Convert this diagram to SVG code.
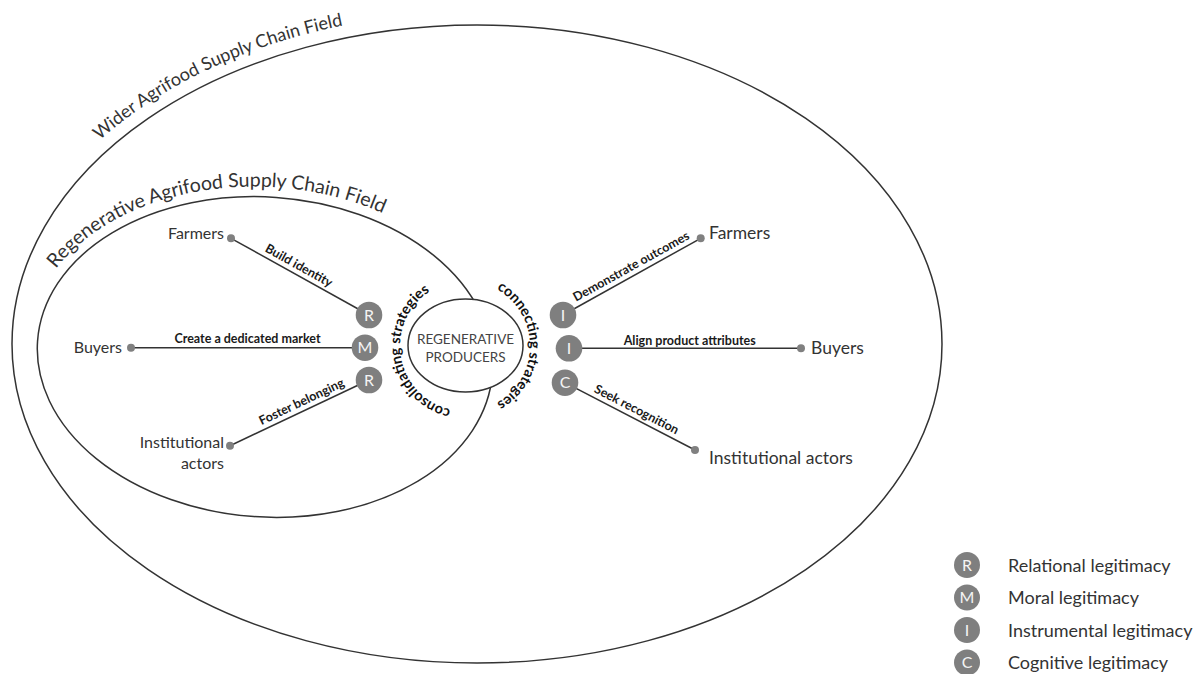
<svg xmlns="http://www.w3.org/2000/svg" width="1199" height="674" viewBox="0 0 1199 674">
<style>
.field{fill:none;stroke:#333;stroke-width:1.5}
.conn{stroke:#333;stroke-width:1.5;fill:none}
.dot{fill:#808080}
.badge{fill:#7f7f7f}
.bl{font-family:Lato,"Liberation Sans",sans-serif;font-size:16px;fill:#f4f4f4;text-anchor:middle}
.actorL{font-family:Lato,"Liberation Sans",sans-serif;font-size:16px;fill:#333;text-anchor:end}
.actorR{font-family:Lato,"Liberation Sans",sans-serif;font-size:17.5px;fill:#333}
.lbl{font-family:Lato,"Liberation Sans",sans-serif;font-weight:bold;font-size:12.5px;fill:#1a1a1a;text-anchor:middle}
.arc{font-family:Lato,"Liberation Sans",sans-serif;font-weight:bold;font-size:14.5px;fill:#111;text-anchor:middle}
.flabel{font-family:Lato,"Liberation Sans",sans-serif;font-size:18px;fill:#333}
.prod{font-family:Lato,"Liberation Sans",sans-serif;font-size:13.5px;fill:#444;text-anchor:middle}
.leg{font-family:Lato,"Liberation Sans",sans-serif;font-size:18px;fill:#333}
</style>
<defs>
<path id="outerPath" d="M -1 344 A 478 332 0 0 1 955 344"/>
<path id="innerPath" d="M -238 0 A 238 170 0 0 1 238 0"/>
<path id="leftArc" d="M 465 411 A 65 65 0 0 1 442.77 284.92"/>
<path id="rightArc" d="M 476.29 281.99 A 65 65 0 0 1 476.29 410.01"/>
</defs>

<g id="wider-field">
<ellipse class="field" cx="477" cy="344" rx="465" ry="319"/>
<text class="flabel"><textPath href="#outerPath" startOffset="234">Wider Agrifood Supply Chain Field</textPath></text>
</g>

<g id="regenerative-field" transform="translate(265 357) rotate(4)">
<ellipse class="field" cx="0" cy="0" rx="228" ry="160"/>
<text class="flabel" style="font-size:19.5px"><textPath href="#innerPath" startOffset="78">Regenerative Agrifood Supply Chain Field</textPath></text>
</g>

<g id="connectors">
<line class="conn" x1="231" y1="238.3" x2="369" y2="315"/>
<line class="conn" x1="131" y1="347.7" x2="365" y2="347.7"/>
<line class="conn" x1="230" y1="445.7" x2="369" y2="380"/>
<line class="conn" x1="563" y1="315" x2="700.7" y2="238.3"/>
<line class="conn" x1="569" y1="348.3" x2="801" y2="348.3"/>
<line class="conn" x1="565" y1="382.7" x2="695" y2="450"/>
<g transform="translate(294.5 273.6) rotate(29.1)"><text class="lbl" x="0" y="-5">Build identity</text></g>
<text class="lbl" x="247.5" y="342.5">Create a dedicated market</text>
<g transform="translate(305.5 410) rotate(-25.3)"><text class="lbl" x="0" y="-5">Foster belonging</text></g>
<g transform="translate(635.6 274.5) rotate(-29.06)"><text class="lbl" x="0" y="-5">Demonstrate outcomes</text></g>
<text class="lbl" x="689.7" y="345">Align product attributes</text>
<g transform="translate(632.4 417.6) rotate(27.37)"><text class="lbl" x="0" y="-5">Seek recognition</text></g>
</g>

<g id="producers">
<ellipse cx="465.5" cy="345.5" rx="57.5" ry="46.5" fill="#fff" stroke="#333" stroke-width="1.5"/>
<text class="prod" x="465.5" y="344">REGENERATIVE</text>
<text class="prod" x="465.5" y="361.7">PRODUCERS</text>
</g>

<g id="strategy-labels">
<text class="arc"><textPath href="#leftArc" startOffset="50%">consolidating strategies</textPath></text>
<text class="arc"><textPath href="#rightArc" startOffset="50%">connecting strategies</textPath></text>
</g>

<g id="farmers-left"><circle class="dot" cx="231" cy="238.3" r="4"/><text class="actorL" x="224" y="239">Farmers</text></g>
<g id="buyers-left"><circle class="dot" cx="131" cy="347.7" r="4"/><text class="actorL" x="122" y="353">Buyers</text></g>
<g id="institutional-left"><circle class="dot" cx="230" cy="445.7" r="4"/><text class="actorL" x="224" y="448">Institutional</text><text class="actorL" x="224" y="469">actors</text></g>
<g id="farmers-right"><circle class="dot" cx="700.7" cy="238.3" r="4"/><text class="actorR" x="709" y="238.5">Farmers</text></g>
<g id="buyers-right"><circle class="dot" cx="801" cy="348.3" r="4"/><text class="actorR" x="811" y="354">Buyers</text></g>
<g id="institutional-right"><circle class="dot" cx="695" cy="450" r="4"/><text class="actorR" x="709" y="464">Institutional actors</text></g>

<g id="badge-r1"><circle class="badge" cx="369" cy="315" r="13.3"/><text class="bl" x="369" y="320.7">R</text></g>
<g id="badge-m"><circle class="badge" cx="365" cy="347.7" r="13.3"/><text class="bl" x="365" y="353.4">M</text></g>
<g id="badge-r2"><circle class="badge" cx="369" cy="380" r="13.3"/><text class="bl" x="369" y="385.7">R</text></g>
<g id="badge-i1"><circle class="badge" cx="563" cy="315" r="13.3"/><text class="bl" x="563" y="320.7">I</text></g>
<g id="badge-i2"><circle class="badge" cx="569" cy="348.3" r="13.3"/><text class="bl" x="569" y="354">I</text></g>
<g id="badge-c"><circle class="badge" cx="565" cy="382.7" r="13.3"/><text class="bl" x="565" y="388.4">C</text></g>

<g id="legend">
<g id="legend-r"><circle class="badge" cx="967" cy="565" r="13"/><text class="bl" x="967" y="570.7">R</text><text class="leg" x="1008" y="571.5">Relational legitimacy</text></g>
<g id="legend-m"><circle class="badge" cx="967" cy="597.5" r="13"/><text class="bl" x="967" y="603.2">M</text><text class="leg" x="1008" y="604">Moral legitimacy</text></g>
<g id="legend-i"><circle class="badge" cx="967" cy="630" r="13"/><text class="bl" x="967" y="635.7">I</text><text class="leg" x="1008" y="636.5">Instrumental legitimacy</text></g>
<g id="legend-c"><circle class="badge" cx="967" cy="662.5" r="13"/><text class="bl" x="967" y="668.2">C</text><text class="leg" x="1008" y="669">Cognitive legitimacy</text></g>
</g>
</svg>
